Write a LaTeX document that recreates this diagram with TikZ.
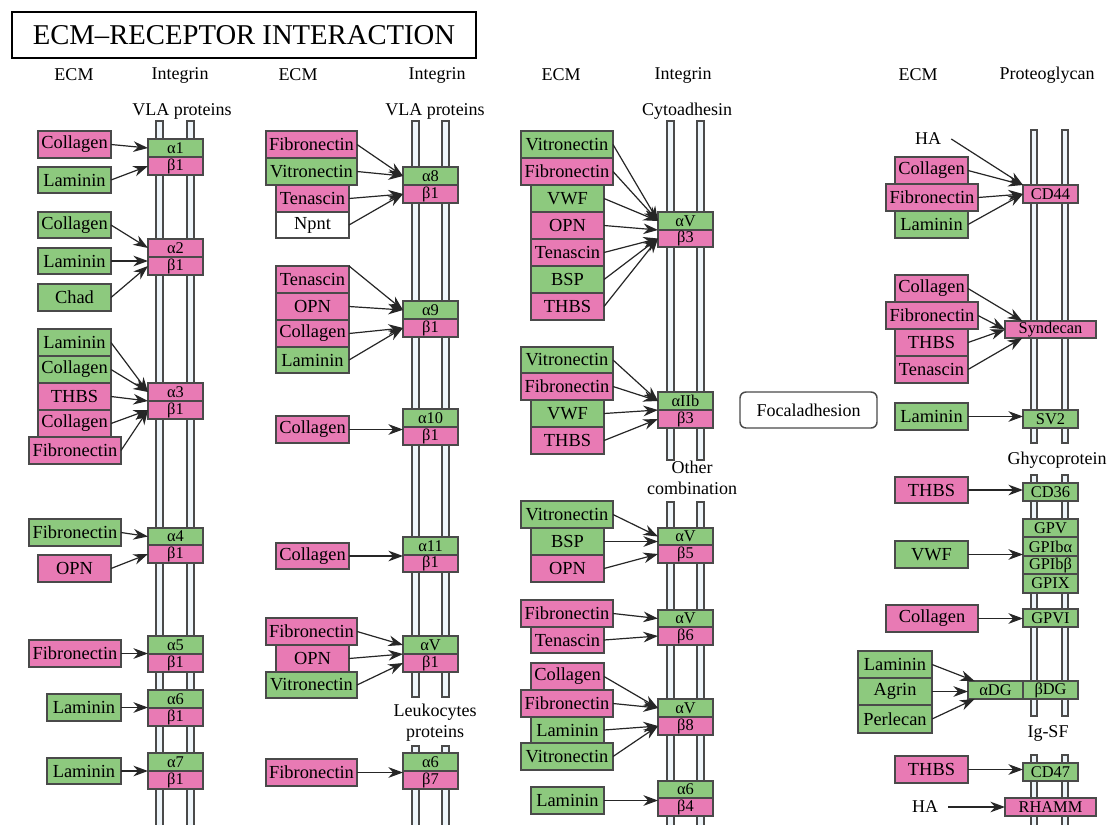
\documentclass[tikz,border=0pt]{standalone}
\usepackage{fontspec}
\setmainfont{Liberation Serif}
\usetikzlibrary{arrows.meta,calc}
\definecolor{gr}{HTML}{8DC97E}
\definecolor{pk}{HTML}{E87AB4}
\definecolor{tb}{HTML}{EEF5FA}
\definecolor{ln}{HTML}{4A4A4A}
\newcommand\bx[7]{\node[lig,fill=#6,minimum width={(#4-#2)*0.75pt},minimum height={(#5-#3)*0.75pt}] (#1) at ({(#2+#4)/2},{(#3+#5)/2}) {#7};}
\newcommand\rbx[7]{\node[lig,rfont,fill=#6,minimum width={(#4-#2)*0.75pt},minimum height={(#5-#3)*0.75pt}] (#1) at ({(#2+#4)/2},{(#3+#5)/2}) {#7};}
\newcommand\rc[9]{\rbx{#1a}{#2}{#3}{#2+55}{#4}{#6}{#7}\rbx{#1b}{#2}{#4}{#2+55}{#5}{#8}{#9}}
\newcommand\tube[3]{\draw[tubest] (#1,#2) rectangle (#1+7,#3);}
\begin{document}
\begin{tikzpicture}[x=0.75pt,y=-0.75pt,
  lig/.style={draw=ln,line width=0.8pt,inner sep=0pt,outer sep=0pt,font=\fontsize{13.8}{15}\selectfont,text=black},
  rfont/.style={font=\fontsize{12.3}{13}\selectfont},
  tubest/.style={draw=ln,fill=tb,line width=1pt},
  arr/.style={-{Stealth[length=11pt,width=8pt]},line width=0.9pt,draw=black!85},
  lbl/.style={inner sep=0pt,font=\fontsize{13.5}{15}\selectfont,text=black,align=center}]
\useasboundingbox (0,0) rectangle (1109,824);
\fill[white] (0,0) rectangle (1109,824);
% title
\node[draw=black,line width=2pt,minimum width={464*0.75pt},minimum height={46*0.75pt},inner sep=0pt,font=\fontsize{21.5}{24}\selectfont] (title) at (244,35) {ECM–RECEPTOR INTERACTION};
% headers
\node[lbl] (h1) at (74,75) {ECM};
\node[lbl] (h2) at (180,75) {Integrin};
\node[lbl] (h3) at (298,75) {ECM};
\node[lbl] (h4) at (437,75) {Integrin};
\node[lbl] (h5) at (561,75) {ECM};
\node[lbl] (h6) at (683,75) {Integrin};
\node[lbl] (h7) at (918,75) {ECM};
\node[lbl] (h8) at (1047,75) {Proteoglycan};
\node[lbl] (s1) at (182,111) {VLA proteins};
\node[lbl] (s2) at (435,111) {VLA proteins};
\node[lbl] (s3) at (687,111) {Cytoadhesin};
\node[lbl] (s4) at (435,712) {Leukocytes};
\node[lbl] (s4b) at (435,733) {proteins};
\node[lbl] (s5) at (692,467) {Other};
\node[lbl] (s5b) at (692,488) {combination};
\node[lbl] (s6) at (1057,460) {Ghycoprotein};
\node[lbl] (s7) at (1048,733) {Ig-SF};
% tubes
\tube{156}{121}{826}\tube{187}{121}{826}
\tube{412}{121}{697}\tube{442}{121}{697}
\tube{412}{746}{826}\tube{442}{746}{826}
\tube{667}{121}{460}\tube{697}{121}{460}
\tube{667}{502}{826}\tube{697}{502}{826}
\draw[tubest] (1031,130) rectangle (1037,443);\draw[tubest] (1062,130) rectangle (1068,443);
\draw[tubest] (1031,475) rectangle (1037,716);\draw[tubest] (1062,475) rectangle (1068,716);
\draw[tubest] (1031,755) rectangle (1037,826);\draw[tubest] (1062,755) rectangle (1068,826);
% focal adhesion
\node[draw=ln,line width=1.1pt,rounded corners=4.5pt,minimum width={137*0.75pt},minimum height={36*0.75pt},inner sep=0pt,font=\fontsize{13.5}{15}\selectfont] (fa) at (808.5,410) {Focaladhesion};
% ---------- column 1
\rc{r1}{148}{139}{157}{175}{gr}{α1}{pk}{β1}
\rc{r2}{148}{239}{257}{275}{pk}{α2}{pk}{β1}
\rc{r3}{148}{383}{401}{419}{pk}{α3}{pk}{β1}
\rc{r4}{148}{528}{545}{563}{gr}{α4}{pk}{β1}
\rc{r5}{148}{636}{654}{672}{gr}{α5}{pk}{β1}
\rc{r6}{148}{690}{708}{726}{gr}{α6}{pk}{β1}
\rc{r7}{148}{753}{771}{789}{gr}{α7}{pk}{β1}
\bx{c1l1}{38}{131}{111}{158}{pk}{Collagen}
\bx{c1l2}{38}{167}{111}{193}{gr}{Laminin}
\bx{c1l3}{38}{212}{111}{238}{gr}{Collagen}
\bx{c1l4}{38}{248}{111}{274}{gr}{Laminin}
\bx{c1l5}{38}{284}{111}{311}{gr}{Chad}
\bx{c1l6}{38}{329}{111}{356}{gr}{Laminin}
\bx{c1l7}{38}{356}{111}{383}{gr}{Collagen}
\bx{c1l8}{38}{383}{111}{410}{pk}{THBS}
\bx{c1l9}{38}{410}{111}{437}{pk}{Collagen}
\bx{c1l10}{29}{437}{121}{464}{pk}{Fibronectin}
\bx{c1l11}{29}{519}{121}{546}{gr}{Fibronectin}
\bx{c1l12}{38}{555}{111}{582}{pk}{OPN}
\bx{c1l13}{29}{640}{121}{667}{pk}{Fibronectin}
\bx{c1l14}{47}{694}{121}{721}{gr}{Laminin}
\bx{c1l15}{47}{758}{121}{784}{gr}{Laminin}
% ---------- column 2
\rc{r8}{403}{167}{185}{203}{gr}{α8}{pk}{β1}
\rc{r9}{403}{301}{319}{337}{gr}{α9}{pk}{β1}
\rc{r10}{403}{409}{427}{445}{gr}{α10}{pk}{β1}
\rc{r11}{403}{537}{555}{572}{gr}{α11}{pk}{β1}
\rc{r12}{403}{636}{654}{672}{gr}{αV}{pk}{β1}
\rc{r13}{403}{753}{771}{789}{gr}{α6}{pk}{β7}
\bx{c2l1}{266}{131}{357}{158}{pk}{Fibronectin}
\bx{c2l2}{266}{158}{357}{185}{gr}{Vitronectin}
\bx{c2l3}{276}{185}{349}{212}{pk}{Tenascin}
\bx{c2l4}{276}{212}{349}{238}{white}{Npnt}
\bx{c2l5}{276}{266}{349}{293}{pk}{Tenascin}
\bx{c2l6}{276}{293}{349}{320}{pk}{OPN}
\bx{c2l7}{276}{320}{349}{347}{pk}{Collagen}
\bx{c2l8}{276}{347}{349}{373}{gr}{Laminin}
\bx{c2l9}{276}{416}{349}{443}{pk}{Collagen}
\bx{c2l10}{276}{543}{349}{569}{pk}{Collagen}
\bx{c2l11}{266}{618}{357}{645}{pk}{Fibronectin}
\bx{c2l12}{276}{645}{349}{672}{pk}{OPN}
\bx{c2l13}{266}{672}{357}{698}{gr}{Vitronectin}
\bx{c2l14}{266}{759}{357}{786}{pk}{Fibronectin}
% ---------- column 3
\rc{r14}{658}{212}{230}{247}{gr}{αV}{pk}{β3}
\rc{r15}{658}{392}{410}{428}{gr}{αIIb}{pk}{β3}
\rc{r16}{658}{528}{545}{563}{gr}{αV}{pk}{β5}
\rc{r17}{658}{610}{627}{645}{gr}{αV}{pk}{β6}
\rc{r18}{658}{699}{717}{735}{gr}{αV}{pk}{β8}
\rc{r19}{658}{781}{798}{816}{gr}{α6}{pk}{β4}
\bx{c3l1}{521}{131}{613}{158}{gr}{Vitronectin}
\bx{c3l2}{521}{158}{613}{185}{pk}{Fibronectin}
\bx{c3l3}{531}{185}{604}{212}{gr}{VWF}
\bx{c3l4}{531}{212}{604}{239}{pk}{OPN}
\bx{c3l5}{531}{239}{604}{266}{pk}{Tenascin}
\bx{c3l6}{531}{266}{604}{293}{gr}{BSP}
\bx{c3l7}{531}{293}{604}{320}{pk}{THBS}
\bx{c3l8}{521}{347}{613}{373}{gr}{Vitronectin}
\bx{c3l9}{521}{373}{613}{400}{pk}{Fibronectin}
\bx{c3l10}{531}{400}{604}{427}{gr}{VWF}
\bx{c3l11}{531}{427}{604}{454}{pk}{THBS}
\bx{c3l12}{521}{501}{613}{528}{gr}{Vitronectin}
\bx{c3l13}{531}{528}{604}{555}{gr}{BSP}
\bx{c3l14}{531}{555}{604}{582}{pk}{OPN}
\bx{c3l15}{521}{600}{613}{627}{pk}{Fibronectin}
\bx{c3l16}{531}{627}{604}{653}{pk}{Tenascin}
\bx{c3l17}{531}{663}{604}{690}{pk}{Collagen}
\bx{c3l18}{521}{690}{613}{717}{pk}{Fibronectin}
\bx{c3l19}{531}{717}{604}{743}{gr}{Laminin}
\bx{c3l20}{521}{743}{613}{770}{gr}{Vitronectin}
\bx{c3l21}{531}{787}{604}{814}{gr}{Laminin}
% ---------- column 4
\rbx{cd44}{1023}{185}{1078}{203}{pk}{CD44}
\rbx{syn}{1005}{321}{1096}{338}{pk}{Syndecan}
\rbx{sv2}{1023}{410}{1078}{428}{gr}{SV2}
\rbx{cd36}{1023}{483}{1078}{501}{gr}{CD36}
\rbx{gpv}{1023}{519}{1078}{537}{gr}{GPV}
\rbx{gpiba}{1023}{537}{1078}{556}{gr}{GPIbα}
\rbx{gpibb}{1023}{556}{1078}{574}{gr}{GPIbβ}
\rbx{gpix}{1023}{574}{1078}{593}{gr}{GPIX}
\rbx{gpvi}{1023}{609}{1078}{627}{gr}{GPVI}
\rbx{adg}{968}{681}{1023}{699}{gr}{αDG}
\rbx{bdg}{1023}{681}{1078}{699}{gr}{βDG}
\rbx{cd47}{1023}{763}{1078}{781}{gr}{CD47}
\rbx{rhamm}{1005}{798}{1096}{816}{pk}{RHAMM}
\node[lbl,inner sep=7.5pt] (ha1) at (928,139) {HA};
\node[lbl,inner sep=7.5pt] (ha2) at (925,807) {HA};
\bx{c4l1}{895}{157}{968}{184}{pk}{Collagen}
\bx{c4l2}{886}{184}{978}{211}{pk}{Fibronectin}
\bx{c4l3}{895}{211}{968}{238}{gr}{Laminin}
\bx{c4l4}{895}{275}{968}{302}{pk}{Collagen}
\bx{c4l5}{886}{302}{978}{329}{pk}{Fibronectin}
\bx{c4l6}{895}{329}{968}{356}{pk}{THBS}
\bx{c4l7}{895}{356}{968}{383}{pk}{Tenascin}
\bx{c4l8}{895}{403}{968}{430}{gr}{Laminin}
\bx{c4l9}{895}{477}{968}{503}{pk}{THBS}
\bx{c4l10}{895}{541}{968}{568}{gr}{VWF}
\bx{c4l11}{886}{605}{978}{632}{pk}{Collagen}
\bx{c4l12}{858}{651}{932}{678}{gr}{Laminin}
\bx{c4l13}{858}{678}{932}{705}{gr}{Agrin}
\bx{c4l14}{858}{705}{932}{733}{gr}{Perlecan}
\bx{c4l15}{895}{756}{968}{783}{pk}{THBS}
% ---------- arrows column 1
\draw[arr] (c1l1.east) -- (r1a.west);
\draw[arr] (c1l2.east) -- (r1b.west);
\draw[arr] (c1l3.east) -- (r2a.west);
\draw[arr] (c1l4.east) -- (c1l4.east -| r2a.west);
\draw[arr] (c1l5.east) -- (r2b.west);
\draw[arr] (c1l6.east) -- (r3a.west);
\draw[arr] (c1l7.east) -- (r3a.west);
\draw[arr] (c1l8.east) -- (r3a.south west);
\draw[arr] (c1l9.east) -- (r3b.west);
\draw[arr] (c1l10.east) -- (r3b.west);
\draw[arr] (c1l11.east) -- (r4a.west);
\draw[arr] (c1l12.east) -- (r4b.west);
\draw[arr] (c1l13.east) -- (c1l13.east -| r5a.west);
\draw[arr] (c1l14.east) -- (c1l14.east -| r6a.west);
\draw[arr] (c1l15.east) -- (c1l15.east -| r7a.west);
% column 2
\draw[arr] (c2l1.east) -- (r8a.west);
\draw[arr] (c2l2.east) -- (r8a.west);
\draw[arr] (c2l3.east) -- (r8b.west);
\draw[arr] (c2l4.east) -- (r8b.west);
\draw[arr] (c2l5.north east) -- (r9a.west);
\draw[arr] (c2l6.east) -- (r9a.west);
\draw[arr] (c2l7.east) -- (r9b.west);
\draw[arr] (c2l8.east) -- (r9b.west);
\draw[arr] (c2l9.east) -- (c2l9.east -| r10a.west);
\draw[arr] (c2l10.east) -- (c2l10.east -| r11a.west);
\draw[arr] (c2l11.east) -- (r12a.west);
\draw[arr] (c2l12.east) -- (r12a.south west);
\draw[arr] (c2l13.east) -- (r12b.west);
\draw[arr] (c2l14.east) -- (c2l14.east -| r13a.west);
% column 3
\draw[arr] (c3l1.east) -- (r14a.west);
\draw[arr] (c3l2.east) -- (r14a.west);
\draw[arr] (c3l3.east) -- (r14a.west);
\draw[arr] (c3l4.east) -- (r14a.south west);
\draw[arr] (c3l5.east) -- (r14b.west);
\draw[arr] (c3l6.east) -- (r14b.west);
\draw[arr] (c3l7.east) -- (r14b.west);
\draw[arr] (c3l8.east) -- (r15a.west);
\draw[arr] (c3l9.east) -- (r15a.west);
\draw[arr] (c3l10.east) -- (r15a.south west);
\draw[arr] (c3l11.east) -- (r15b.west);
\draw[arr] (c3l12.east) -- (r16a.west);
\draw[arr] (c3l13.east) -- (c3l13.east -| r16a.west);
\draw[arr] (c3l14.east) -- (r16b.west);
\draw[arr] (c3l15.east) -- (r17a.west);
\draw[arr] (c3l16.east) -- (r17b.west);
\draw[arr] (c3l17.east) -- (r18a.west);
\draw[arr] (c3l18.east) -- (r18a.west);
\draw[arr] (c3l19.east) -- (r18b.west);
\draw[arr] (c3l20.east) -- (r18b.west);
\draw[arr] (c3l21.east) -- (c3l21.east -| r19a.west);
% column 4
\draw[arr] (ha1.east) -- (cd44.north west);
\draw[arr] (c4l1.east) -- (cd44.north west);
\draw[arr] (c4l2.east) -- (cd44.west);
\draw[arr] (c4l3.east) -- (cd44.west);
\draw[arr] (c4l4.east) -- ($(syn.north west)!0.19!(syn.north east)$);
\draw[arr] (c4l5.east) -- (syn.west);
\draw[arr] (c4l6.east) -- (syn.west);
\draw[arr] (c4l7.east) -- ($(syn.south west)!0.19!(syn.south east)$);
\draw[arr] (c4l8.east) -- (c4l8.east -| sv2.west);
\draw[arr] (c4l9.east) -- (c4l9.east -| cd36.west);
\draw[arr] (c4l10.east) -- (c4l10.east -| gpiba.west);
\draw[arr] (c4l11.east) -- (c4l11.east -| gpvi.west);
\draw[arr] (c4l12.east) -- ($(adg.north west)!0.12!(adg.north east)$);
\draw[arr] (c4l13.east) -- (c4l13.east -| adg.west);
\draw[arr] (c4l14.east) -- ($(adg.south west)!0.12!(adg.south east)$);
\draw[arr] (c4l15.east) -- (c4l15.east -| cd47.west);
\draw[arr] (ha2.east) -- (ha2.east -| rhamm.west);
\end{tikzpicture}
\end{document}
